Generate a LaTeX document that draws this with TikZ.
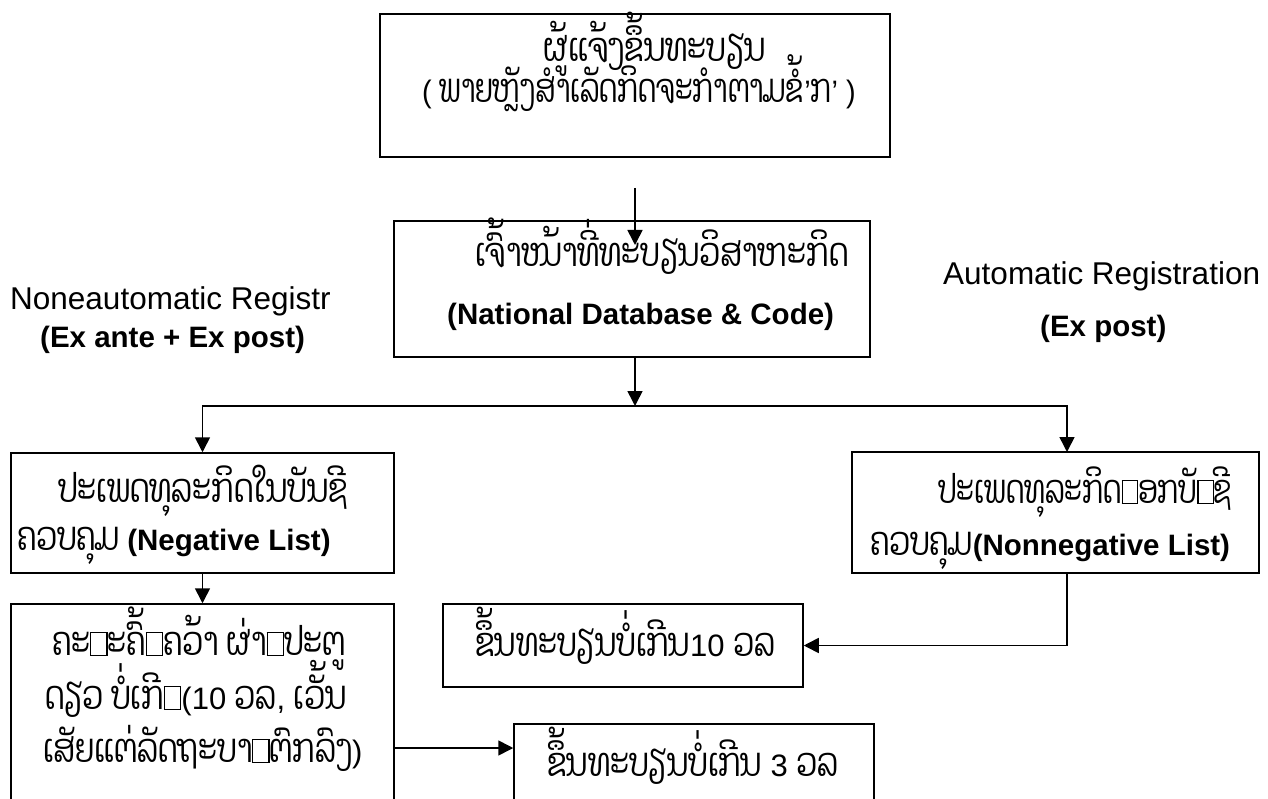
\documentclass[tikz,border=0pt]{standalone}
\usepackage{fontspec}
\setmainfont{Liberation Sans}
\newfontfamily\lao[Script=Lao,FakeStretch=0.76]{Dhyana}
\usetikzlibrary{arrows.meta}
\newcommand{\nd}{{\setlength{\fboxsep}{0pt}\setlength{\fboxrule}{1.3pt}\fbox{\rule{0pt}{22pt}\hspace{15pt}}}}
\newcommand{\laosize}{\fontsize{40}{44}\selectfont}
\newcommand{\ensize}{\fontsize{31.5}{36}\selectfont}
\newcommand{\bsize}{\fontsize{29.5}{36}\selectfont\rmfamily\bfseries}
\newcommand{\lat}[1]{{\fontsize{31}{36}\selectfont\rmfamily #1}}
\tikzset{
  box/.style={draw, line width=1.5pt, inner sep=0pt},
  arr/.style={line width=1.6pt, -{Triangle[length=15pt,width=15pt]}},
  txt/.style={anchor=base west, inner sep=0pt},
}
\begin{document}
\begin{tikzpicture}[x=1pt,y=-1pt]
\useasboundingbox (0,0) rectangle (1268,799);
\clip (0,0) rectangle (1268,799);
% boxes
\node[box, minimum width=510, minimum height=143] (top) at (635,85.5) {};
\node[box, minimum width=476, minimum height=136] (db) at (632,289) {};
\node[box, minimum width=383, minimum height=120] (neg) at (202.5,513) {};
\node[box, minimum width=407, minimum height=121] (nonneg) at (1055.5,512.5) {};
\node[box, minimum width=383, minimum height=226] (cmt) at (202.5,717) {};
\node[box, minimum width=360, minimum height=83] (ten) at (623,645.5) {};
\node[box, minimum width=360, minimum height=106] (three) at (694,777) {};
% texts
\node[txt] (t1) at (543,62) {\laosize\lao ຜູ້ແຈ້ງຂຶ້ນທະບຽນ};
\node[txt] (t2) at (422,103) {\scalebox{0.93}[1]{\laosize\lao \lat{( }ພາຍຫຼັງສຳເລັດກິດຈະກຳຕາມຂໍ້\lat{'}ກ\lat{’ )}}};
\node[txt] (d1) at (475,267) {\laosize\lao ເຈົ້າໜ້າທີ່ທະບຽນວິສາຫະກິດ};
\node[txt] (d2) at (447,325) {\bsize (National Database \& Code)};
\node[txt] (na1) at (10,310) {\ensize Noneautomatic Registr};
\node[txt] (na2) at (40,347) {\bsize (Ex ante + Ex post)};
\node[txt] (au1) at (943,285) {\ensize Automatic Registration};
\node[txt] (au2) at (1040,337) {\bsize (Ex post)};
\node[txt] (n1) at (58,502) {\laosize\lao ປະເພດທຸລະກິດໃນບັນຊີ};
\node[txt] (n2) at (17,550) {\laosize\lao ຄວບຄຸມ {\bsize (Negative List)}};
\node[txt] (p1) at (938,503) {\scalebox{0.94}[1]{\laosize\lao ປະເພດທຸລະກິດ\nd ອກບັ\nd ຊີ}};
\node[txt] (p2) at (870,555) {\laosize\lao ຄວບຄຸມ{\bsize (Nonnegative List)}};
\node[txt] (c1) at (52,655) {\laosize\lao ຄະ\nd ະຄົ້\nd ຄວ້າ ຜ່າ\nd ປະຕູ};
\node[txt] (c2) at (45,709) {\laosize\lao ດຽວ ບໍ່ເກີ\nd\lat{(10 }ວລ\lat{, }ເວັ້ນ};
\node[txt] (c3) at (43,762) {\laosize\lao ເສັຍແຕ່ລັດຖະບາ\nd ຕົກລົງ\lat{)}};
\node[txt] (r10) at (475,656) {\laosize\lao ຂຶ້ນທະບຽນບໍ່ເກີນ\lat{10 }ວລ};
\node[txt] (r3) at (547,776) {\laosize\lao ຂຶ້ນທະບຽນບໍ່ເກີນ\lat{ 3 }ວລ};
% connectors
\coordinate (a1s) at (635,188);
\coordinate (a1e) at (635,245);
\coordinate (split) at (635,406);
\coordinate (rdrop) at (1067,452);
\coordinate (lout) at (394,748);
\draw[arr] (a1s) -- (a1e);
\draw[arr] (db.south -| split) -- (split);
\draw[arr] (split) -| (neg.north);
\draw[arr] (split) -| (rdrop);
\draw[arr] (neg.south) -- (cmt.north);
\draw[arr] (nonneg.south -| rdrop) |- (ten.east);
\draw[arr] (lout) -- (lout -| three.west);
\end{tikzpicture}
\end{document}
